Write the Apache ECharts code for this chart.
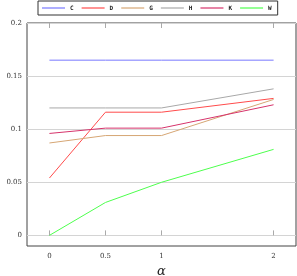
<!DOCTYPE html>
<html><head><meta charset="utf-8">
<script src="https://cdn.jsdelivr.net/npm/echarts@6/dist/echarts.min.js"></script>
<style>html,body{margin:0;padding:0;background:#fff}#c{width:297px;height:276px}</style>
</head><body><div id="c"></div>
<script>
const alphaValues = [0, 0.5, 1, 2];
const seriesNames = ['C', 'D', 'G', 'H', 'K', 'W'];
const C = [0.165, 0.165, 0.165, 0.165];
const D = [0.054, 0.116, 0.116, 0.129];
const G = [0.087, 0.094, 0.094, 0.128];
const H = [0.120, 0.120, 0.120, 0.138];
const K = [0.096, 0.101, 0.101, 0.123];
const W = [0.000, 0.031, 0.050, 0.081];
const xTicks = [0, 0.5, 1, 2];
const yTicks = [0, 0.05, 0.1, 0.15, 0.2];
const colors = ['#7878ff', '#ff4b4b', '#d6a674', '#a8a8a8', '#d6336b', '#4dff4d'];
const values = [C, D, G, H, K, W];

const chart = echarts.init(document.getElementById('c'), null, {renderer: 'canvas'});
const font = 'DejaVu Serif';
chart.setOption({
  animation: false,
  grid: {left: 27, right: 1, top: 23, bottom: 30, show: true, borderColor: '#444', borderWidth: 1,
    outerBoundsMode: 'none', containLabel: false},
  legend: {
    top: 1, left: 38,
    data: seriesNames,
    icon: 'rect', itemWidth: 23, itemHeight: 1.2, itemGap: 8,
    borderColor: '#333', borderWidth: 1, padding: [4, 6, 4, 4],
    textStyle: {fontFamily: 'DejaVu Sans Mono', fontSize: 6, color: '#222', fontWeight: 'bold'}
  },
  xAxis: [{
    type: 'value', min: -0.2, max: 2.2, position: 'bottom',
    name: 'α', nameLocation: 'middle', nameGap: 19,
    nameTextStyle: {fontFamily: font, fontStyle: 'italic', fontSize: 13, color: '#222'},
    axisLine: {show: false},
    axisTick: {show: true, inside: true, length: 5, customValues: xTicks, lineStyle: {color: '#aaa'}},
    axisLabel: {customValues: xTicks, fontFamily: font, fontSize: 7, color: '#333', margin: 7,
      formatter: v => String(v)},
    splitLine: {show: false}
  }, {
    type: 'value', min: -0.2, max: 2.2, position: 'top',
    axisLine: {show: false},
    axisTick: {show: true, inside: true, length: 5, customValues: xTicks, lineStyle: {color: '#aaa'}},
    axisLabel: {show: false},
    splitLine: {show: false}
  }],
  yAxis: {
    type: 'value', min: -0.01, max: 0.2,
    axisLine: {show: false},
    axisTick: {show: false, customValues: yTicks},
    axisLabel: {customValues: yTicks, fontFamily: font, fontSize: 7, color: '#333', margin: 5,
      formatter: v => String(v)},
    splitLine: {show: true, lineStyle: {color: '#d4d4d4', width: 1.2}}
  },
  series: seriesNames.map((n, i) => ({
    name: n, type: 'line', symbol: 'none',
    data: alphaValues.map((a, j) => [a, values[i][j]]),
    lineStyle: {color: colors[i], width: 1},
    itemStyle: {color: colors[i]}
  }))
});
</script></body></html>
